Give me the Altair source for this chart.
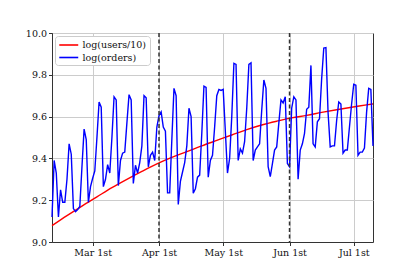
import altair as alt
import pandas as pd

start_date = "2017-02-10"

orders_log = [
    9.12, 9.39, 9.33, 9.12, 9.25, 9.19, 9.19, 9.30,
    9.47, 9.42, 9.16, 9.145, 9.155, 9.17, 9.36,
    9.54, 9.49, 9.19, 9.265, 9.305, 9.34, 9.50,
    9.67, 9.645, 9.265, 9.30, 9.37, 9.33, 9.50,
    9.695, 9.68, 9.27, 9.39, 9.425, 9.43, 9.57,
    9.705, 9.68, 9.28, 9.367, 9.33, 9.38, 9.46,
    9.70, 9.69, 9.36, 9.415, 9.43, 9.39, 9.55,
    9.605, 9.623, 9.55, 9.53, 9.235, 9.235, 9.49,
    9.735, 9.70, 9.18, 9.29, 9.335, 9.38, 9.46,
    9.64, 9.60, 9.233, 9.255, 9.31, 9.32, 9.52,
    9.746, 9.74, 9.31, 9.39, 9.415, 9.55, 9.70,
    9.73, 9.725, 9.73, 9.53, 9.33, 9.40, 9.60,
    9.855, 9.85, 9.39, 9.445, 9.425, 9.48, 9.64,
    9.85, 9.857, 9.39, 9.44, 9.455, 9.47, 9.63,
    9.775, 9.735, 9.36, 9.313, 9.375, 9.44, 9.455,
    9.57, 9.68, 9.665, 9.695, 9.375, 9.36, 9.64,
    9.695, 9.68, 9.30, 9.44, 9.47, 9.52, 9.635,
    9.645, 9.845, 9.47, 9.455, 9.575, 9.59, 9.78,
    9.928, 9.93, 9.62, 9.455, 9.46, 9.46, 9.58,
    9.67, 9.66, 9.425, 9.44, 9.44, 9.55, 9.66,
    9.755, 9.75, 9.415, 9.43, 9.43, 9.45, 9.62,
    9.735, 9.73, 9.46,
]

users_day = [0, 7, 14, 21, 28, 35, 42, 49, 56, 63, 70, 77, 84, 91, 98,
             105, 112, 119, 126, 133, 140, 147, 150]
users_log = [9.078, 9.126, 9.172, 9.216, 9.260, 9.300, 9.338, 9.374, 9.405,
             9.432, 9.460, 9.486, 9.512, 9.538, 9.560, 9.578, 9.594, 9.606,
             9.620, 9.633, 9.645, 9.656, 9.661]

event_dates = ["2017-04-01", "2017-06-01"]
tick_dates = ["2017-03-01", "2017-04-01", "2017-05-01", "2017-06-01", "2017-07-01"]
y_ticks = [9.0, 9.2, 9.4, 9.6, 9.8, 10.0]
series_names = ["log(users/10)", "log(orders)"]
series_colors = ["#ff0000", "#0000ff"]

base = pd.Timestamp(start_date)
def day(k):
    return (base + pd.Timedelta(days=k)).strftime("%Y-%m-%d")

def ms(s):
    return int(pd.Timestamp(s).value // 10**6)

orders_df = pd.DataFrame({
    "date": [day(i) for i in range(len(orders_log))],
    "value": orders_log,
    "series": series_names[1],
})
users_df = pd.DataFrame({
    "date": [day(k) for k in users_day],
    "value": users_log,
    "series": series_names[0],
})
events_df = pd.DataFrame({"date": event_dates})

font = "DejaVu Serif"
x_dom = [ms(day(0)), ms(day(len(orders_log) - 1))]

x_enc = alt.X(
    "date:T",
    scale=alt.Scale(type="utc", domain=x_dom, nice=False),
    axis=alt.Axis(
        values=[ms(t) for t in tick_dates],
        labelExpr="utcFormat(datum.value, '%b') + ' 1st'",
        title=None,
        grid=True,
    ),
)
y_enc = alt.Y(
    "value:Q",
    scale=alt.Scale(domain=[9.0, 10.0], nice=False, zero=False),
    axis=alt.Axis(values=y_ticks, format=".1f", title=None, grid=True),
)
color_enc = alt.Color(
    "series:N",
    scale=alt.Scale(domain=series_names, range=series_colors),
    legend=alt.Legend(
        title=None,
        orient="top-left",
        offset=3,
        padding=3,
        fillColor="white",
        strokeColor="#cccccc",
        cornerRadius=3,
        symbolType="M-1,0H3",
        symbolSize=90,
        symbolStrokeWidth=1.6,
        labelFont=font,
        labelFontSize=9.5,
        labelColor="#111",
        rowPadding=1.5,
        labelOffset=12.5,
    ),
)

users_line = alt.Chart(users_df).mark_line(strokeWidth=1.4, interpolate="monotone").encode(
    x=x_enc, y=y_enc, color=color_enc
)
orders_line = alt.Chart(orders_df).mark_line(strokeWidth=1.4).encode(
    x=x_enc, y=y_enc, color=color_enc
)
rules = alt.Chart(events_df).mark_rule(
    color="#333333", strokeDash=[4, 2.5], strokeWidth=1.5
).encode(x=alt.X("date:T", scale=alt.Scale(type="utc")))

chart = (
    alt.layer(users_line, orders_line, rules)
    .properties(width=321, height=209, autosize="none",
                padding={"left": 44, "top": 25, "right": 20, "bottom": 22})
    .configure_axis(
        labelFont=font, labelFontSize=9.5, labelColor="#111",
        tickColor="#333", domainColor="#333", tickSize=3.5,
        gridColor="#cccccc", gridWidth=1, labelPadding=2,
    )
    .configure_view(stroke="#333", strokeWidth=1)
)

chart.save("out.html", embed_options={"renderer": "svg", "actions": False})
